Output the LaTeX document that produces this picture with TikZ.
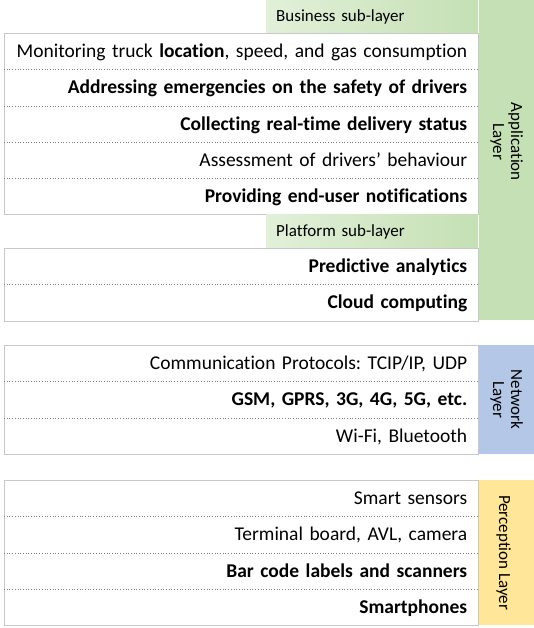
\documentclass[tikz,border=0pt]{standalone}
\usepackage{fontspec}
\setmainfont{Carlito}[Ligatures={NoCommon}]
\usepackage{tikz}
\usetikzlibrary{positioning}
\definecolor{appgreen}{HTML}{C5E0B4}
\definecolor{sublight}{HTML}{E2F0D9}
\definecolor{netblue}{HTML}{B4C7E7}
\definecolor{percyellow}{HTML}{FFE699}
\definecolor{boxgray}{HTML}{C8C8C8}
\definecolor{sepgray}{HTML}{7F7F7F}
\tikzstyle{item} = [rectangle, text width=452pt, align=right, inner xsep=11pt, inner ysep=0pt, minimum height=36.25pt, text height=12.6pt, text depth=0pt, font=\fontsize{19.5}{23}\selectfont]
\tikzstyle{sublayer} = [rectangle, text width=192pt, align=left, inner xsep=10pt, inner ysep=0pt, minimum height=33pt, text height=10.9pt, text depth=0pt, left color=sublight, middle color=sublight, right color=appgreen, font=\fontsize{17}{20}\selectfont]
\tikzstyle{strip} = [rectangle, minimum width=56pt, inner sep=0pt, anchor=north west]
\tikzstyle{layertag} = [rotate=-90, align=center, inner sep=0pt, font=\fontsize{17}{18}\selectfont]
\tikzstyle{layerbox} = [draw=boxgray, line width=0.8pt]
\tikzstyle{divider} = [draw=sepgray, line width=0.7pt, dash pattern=on 0.7pt off 2pt]
\frenchspacing

\begin{document}
\begin{tikzpicture}[x=1pt, y=-1pt, node distance=36.25pt]
	\useasboundingbox (0,0) rectangle (534,628);
	% application layer, business part
	\node(a1) [item, anchor=north west] at (4,33) {Monitoring truck \textbf{location}, speed, and gas consumption};
	\node(a2) [item, below of=a1] {\textbf{Addressing emergencies on the safety of drivers}};
	\node(a3) [item, below of=a2] {\textbf{Collecting real-time delivery status}};
	\node(a4) [item, below of=a3] {Assessment of drivers’ behaviour};
	\node(a5) [item, below of=a4] {\textbf{Providing end-user notifications}};
	\draw[layerbox] (a1.north west) rectangle (a5.south east);
	\draw[divider] (a1.south west) -- (a1.south east);
	\draw[divider] (a2.south west) -- (a2.south east);
	\draw[divider] (a3.south west) -- (a3.south east);
	\draw[divider] (a4.south west) -- (a4.south east);
	\node(bizhdr) [sublayer, anchor=south east] at (a1.north east) {Business sub-layer};
	
	% application layer, platform part
	\node(plathdr) [sublayer, anchor=north east] at (a5.south east) {Platform sub-layer};
	\node(p1) [item, anchor=north west] at (plathdr.south -| a5.west) {\textbf{Predictive analytics}};
	\node(p2) [item, below of=p1] {\textbf{Cloud computing}};
	\draw[layerbox] (p1.north west) rectangle (p2.south east);
	\draw[divider] (p1.south west) -- (p1.south east);
	\node(appstrip) [strip, fill=appgreen, minimum height=320pt] at (bizhdr.north east) {};
	\node(applabel) [layertag] at ([yshift=18pt]appstrip.center) {Application\\Layer};
	
	% network layer
	\node(n1) [item, anchor=north west] at (4,345) {Communication Protocols: TCIP/IP, UDP};
	\node(n2) [item, below of=n1] {\textbf{GSM, GPRS, 3G, 4G, 5G, etc.}};
	\node(n3) [item, below of=n2] {Wi-Fi, Bluetooth};
	\draw[layerbox] (n1.north west) rectangle (n3.south east);
	\draw[divider] (n1.south west) -- (n1.south east);
	\draw[divider] (n2.south west) -- (n2.south east);
	\node(netstrip) [strip, fill=netblue, minimum height=108.75pt] at (n1.north east) {};
	\node(netlabel) [layertag] at (netstrip.center) {Network\\Layer};
	
	% perception layer
	\node(s1) [item, anchor=north west] at (4,480) {Smart sensors};
	\node(s2) [item, below of=s1] {Terminal board, AVL, camera};
	\node(s3) [item, below of=s2] {\textbf{Bar code labels and scanners}};
	\node(s4) [item, below of=s3] {\textbf{Smartphones}};
	\draw[layerbox] (s1.north west) rectangle (s4.south east);
	\draw[divider] (s1.south west) -- (s1.south east);
	\draw[divider] (s2.south west) -- (s2.south east);
	\draw[divider] (s3.south west) -- (s3.south east);
	\node(percstrip) [strip, fill=percyellow, minimum height=145pt] at (s1.north east) {};
	\node(perclabel) [layertag] at ([xshift=-3pt]percstrip.center) {Perception Layer};
\end{tikzpicture}
\end{document}
